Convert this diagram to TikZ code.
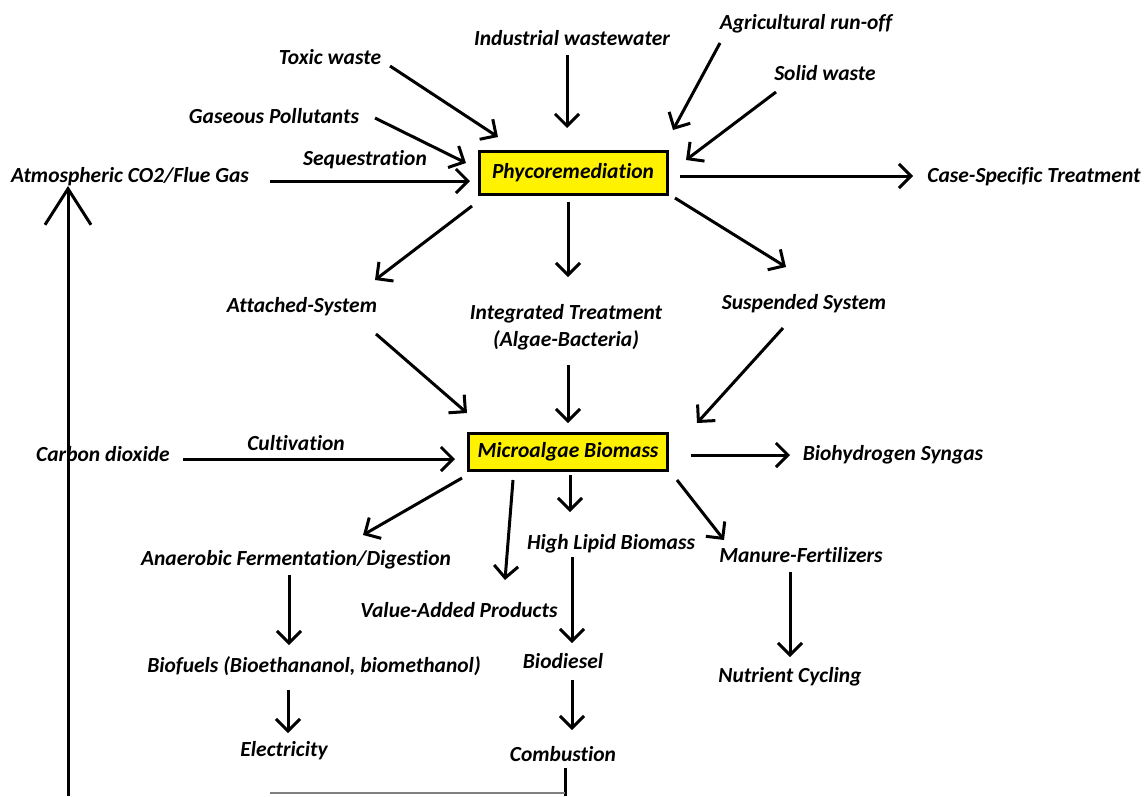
\documentclass[tikz,border=0pt]{standalone}
\usepackage{fontspec}
\setmainfont[Ligatures=NoCommon]{Carlito}
\usetikzlibrary{arrows.meta,calc}
\tikzset{
  lbl/.style={font=\fontsize{21.5}{27}\selectfont\bfseries\itshape, inner sep=0pt},
  ybox/.style={lbl, draw, line width=3pt, fill=yellow},
  arr/.style={line width=3pt, -{Straight Barb[length=12pt,width=24pt,line width=3pt]}},
}
\begin{document}
\begin{tikzpicture}[x=1pt,y=-1pt]
            \useasboundingbox (0,0) rectangle (1146,796);
            \node[ybox, minimum width=188, minimum height=43] (phyco) at (573,173) {Phycoremediation};
            \node[ybox, minimum width=199, minimum height=37] (micro) at (568,452) {Microalgae Biomass};

            \node[lbl] (toxic) at (330,57) {Toxic waste};
            \node[lbl] (industrial) at (572,38) {Industrial wastewater};
            \node[lbl] (agri) at (806,24) {Agricultural run-off};
            \node[lbl] (solid) at (825,73) {Solid waste};
            \node[lbl] (gaseous) at (274,116) {Gaseous Pollutants};
            \node[lbl] (seq) at (365,160) {Sequestration};
            \node[lbl] (atmos) at (130,177) {Atmospheric CO2/Flue Gas};
            \node[lbl] (case) at (1034,177) {Case-Specific Treatment};
            \node[lbl] (attached) at (302,307) {Attached-System};
            \node[lbl, align=center] (integ) at (566,327) {Integrated Treatment\\(Algae-Bacteria)};
            \node[lbl] (susp) at (804,304) {Suspended System};
            \node[lbl] (carbon) at (103,454) {Carbon dioxide};
            \node[lbl] (cult) at (296,443) {Cultivation};
            \node[lbl] (biohyd) at (893,455) {Biohydrogen Syngas};
            \node[lbl] (anaer) at (296,560) {Anaerobic Fermentation/Digestion};
            \node[lbl] (lipid) at (611,544) {High Lipid Biomass};
            \node[lbl] (manure) at (801,555) {Manure-Fertilizers};
            \node[lbl] (value) at (459,610) {Value-Added Products};
            \node[lbl] (biofuels) at (314,666) {Biofuels (Bioethananol, biomethanol)};
            \node[lbl] (biodiesel) at (563,661) {Biodiesel};
            \node[lbl] (nutrient) at (790,677) {Nutrient Cycling};
            \node[lbl] (elec) at (284,751) {Electricity};
            \node[lbl] (comb) at (563,754) {Combustion};

            \coordinate (loopstart) at (68,796);
            \coordinate (loopend) at (270,793);

            \draw[arr] ($(toxic)+(60,9)$) -- ($(phyco)+(-75,-36)$);
            \draw[arr] ($(industrial)+(-5,17)$) -- ($(phyco)+(-6,-45)$);
            \draw[arr] ($(agri)+(-86,19)$) -- ($(phyco)+(100,-43)$);
            \draw[arr] ($(solid)+(-49,19)$) -- ($(phyco)+(113,-13)$);
            \draw[arr] ($(gaseous)+(101,2)$) -- ($(phyco)+(-107,-10)$);
            \draw[arr] ($(atmos)+(140,4)$) -- ($(phyco)+(-103,8)$);
            \draw[arr] ($(phyco)+(107,3)$) -- ($(case)+(-121,-1)$);

            \draw[arr] ($(phyco)+(-101,33)$) -- ($(attached)+(73,-27)$);
            \draw[arr] ($(phyco)+(-5,29)$) -- ($(integ)+(2,-50)$);
            \draw[arr] ($(phyco)+(102,25)$) -- ($(susp)+(-18,-37)$);
            \draw[arr] ($(attached)+(74,27)$) -- ($(micro)+(-101,-39)$);
            \draw[arr] ($(integ)+(2,38)$) -- ($(micro)+(0,-29)$);
            \draw[arr] ($(susp)+(-21,24)$) -- ($(micro)+(129,-29)$);
            \draw[arr] ($(carbon)+(80,5)$) -- ($(micro)+(-113,7)$);
            \draw[arr] ($(micro)+(123,3)$) -- ($(biohyd)+(-103,0)$);

            \draw[arr] ($(micro)+(-106,26)$) -- ($(anaer)+(67,-25)$);
            \draw[arr] ($(micro)+(-55,28)$) -- ($(value)+(46,-30)$);
            \draw[arr] ($(micro)+(2,23)$) -- ($(lipid)+(-41,-32)$);
            \draw[arr] ($(micro)+(109,28)$) -- ($(manure)+(-77,-15)$);
            \draw[arr] ($(anaer)+(-7,15)$) -- ($(biofuels)+(-25,-21)$);
            \draw[arr] ($(lipid)+(-39,13)$) -- ($(biodiesel)+(9,-18)$);
            \draw[arr] ($(manure)+(-11,17)$) -- ($(nutrient)+(0,-20)$);
            \draw[arr] ($(biofuels)+(-26,24)$) -- ($(elec)+(4,-18)$);
            \draw[arr] ($(biodiesel)+(9,19)$) -- ($(comb)+(9,-24)$);

            \draw[line width=3pt] ($(comb)+(2,14)$) -- ($(comb)+(2,42)$);
            \draw[gray, line width=1.5pt] (loopend) -- ($(comb)+(2,39)$);
            \draw[line width=3pt, -{Straight Barb[length=36pt,width=46pt,line width=3pt]}] (loopstart) -- ($(atmos)+(-62,9)$);
        \end{tikzpicture}
\end{document}
